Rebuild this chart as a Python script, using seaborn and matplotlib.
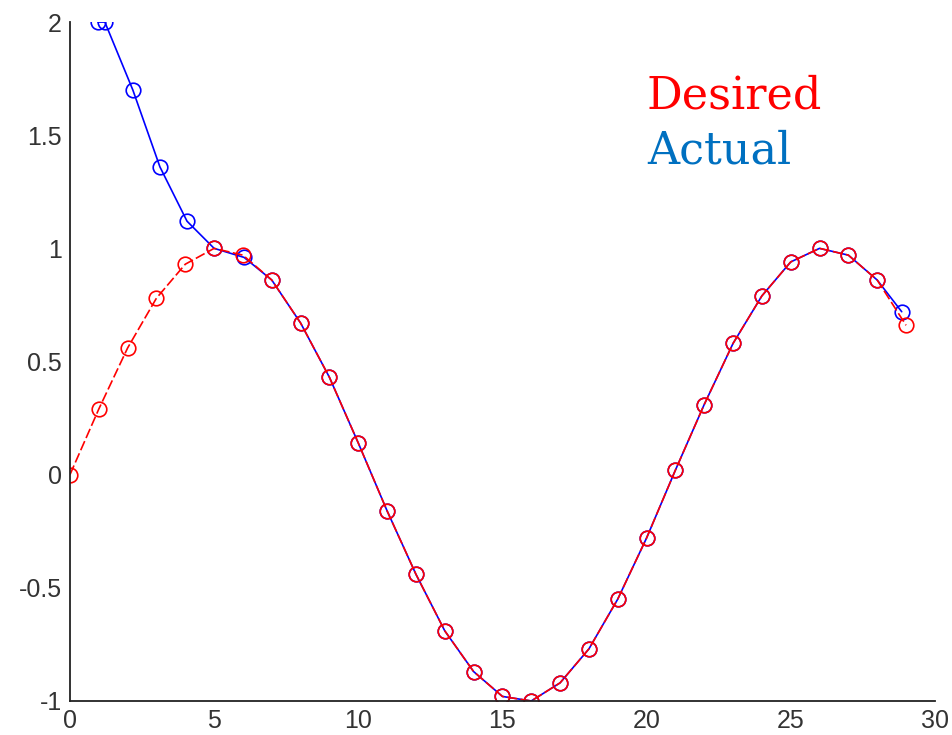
import matplotlib
matplotlib.use("Agg")
import matplotlib.pyplot as plt
import seaborn as sns
import pandas as pd

# Desired trajectory
desired_t = list(range(30))
desired_y = [0.0, 0.29, 0.56, 0.78, 0.93, 1.0, 0.97, 0.86, 0.67, 0.43,
             0.14, -0.16, -0.44, -0.69, -0.87, -0.98, -1.0, -0.92, -0.77, -0.55,
             -0.28, 0.02, 0.31, 0.58, 0.79, 0.94, 1.0, 0.97, 0.86, 0.66]

# Actual trajectory
actual_t = [0.97, 1.21, 2.18, 3.12, 4.06, 5.0, 6.04, 7, 8, 9,
            10, 11, 12, 13, 14, 15, 16, 17, 18, 19,
            20, 21, 22, 23, 24, 25, 26, 27, 28, 28.85]
actual_y = [2.0, 2.0, 1.70, 1.36, 1.12, 1.0, 0.96, 0.86, 0.67, 0.43,
            0.14, -0.16, -0.44, -0.69, -0.87, -0.98, -1.0, -0.92, -0.77, -0.55,
            -0.28, 0.02, 0.31, 0.58, 0.79, 0.94, 1.0, 0.97, 0.86, 0.72]

x_ticks = [0, 5, 10, 15, 20, 25, 30]
y_ticks = [-1, -0.5, 0, 0.5, 1, 1.5, 2]
y_tick_labels = ["-1", "-0.5", "0", "0.5", "1", "1.5", "2"]

sns.set_theme(style="white")
plt.rcParams["font.family"] = ["Liberation Sans", "DejaVu Sans"]

fig = plt.figure(figsize=(9.52, 7.35), dpi=100)
ax = fig.add_axes([0.0735, 0.0463, 0.9085, 0.9237])

actual = pd.DataFrame({"t": actual_t, "y": actual_y})
desired = pd.DataFrame({"t": desired_t, "y": desired_y})

sns.lineplot(data=actual, x="t", y="y", ax=ax, sort=False, color="#0000FF",
             linewidth=1.2, marker="o", markersize=10.5,
             markerfacecolor="none", markeredgecolor="#0000FF", markeredgewidth=1.2)
sns.lineplot(data=desired, x="t", y="y", ax=ax, sort=False, color="#FF0000",
             linewidth=1.2, linestyle=(0, (6, 2)), marker="o", markersize=10.5,
             markerfacecolor="none", markeredgecolor="#FF0000", markeredgewidth=1.2)

ax.set_xlim(0, 30)
ax.set_ylim(-1, 2)
ax.set_xticks(x_ticks)
ax.set_yticks(y_ticks)
ax.set_yticklabels(y_tick_labels)
ax.set_xlabel("")
ax.set_ylabel("")

for side in ("top", "right"):
    ax.spines[side].set_visible(False)
for side in ("left", "bottom"):
    ax.spines[side].set_color("#222222")
    ax.spines[side].set_linewidth(1.3)

ax.tick_params(axis="both", direction="in", length=7, width=1.3, color="#222222",
               labelsize=18, labelcolor="#333333")
ax.tick_params(axis="x", pad=6)
ax.tick_params(axis="y", pad=6)

ax.text(0.667, 0.873, "Desired", transform=ax.transAxes, color="#FF0000",
        fontsize=32, family=["DejaVu Serif"], va="baseline", ha="left")
ax.text(0.667, 0.792, "Actual", transform=ax.transAxes, color="#0070C0",
        fontsize=32, family=["DejaVu Serif"], va="baseline", ha="left")

fig.savefig("out.png", dpi=100, facecolor="white")
